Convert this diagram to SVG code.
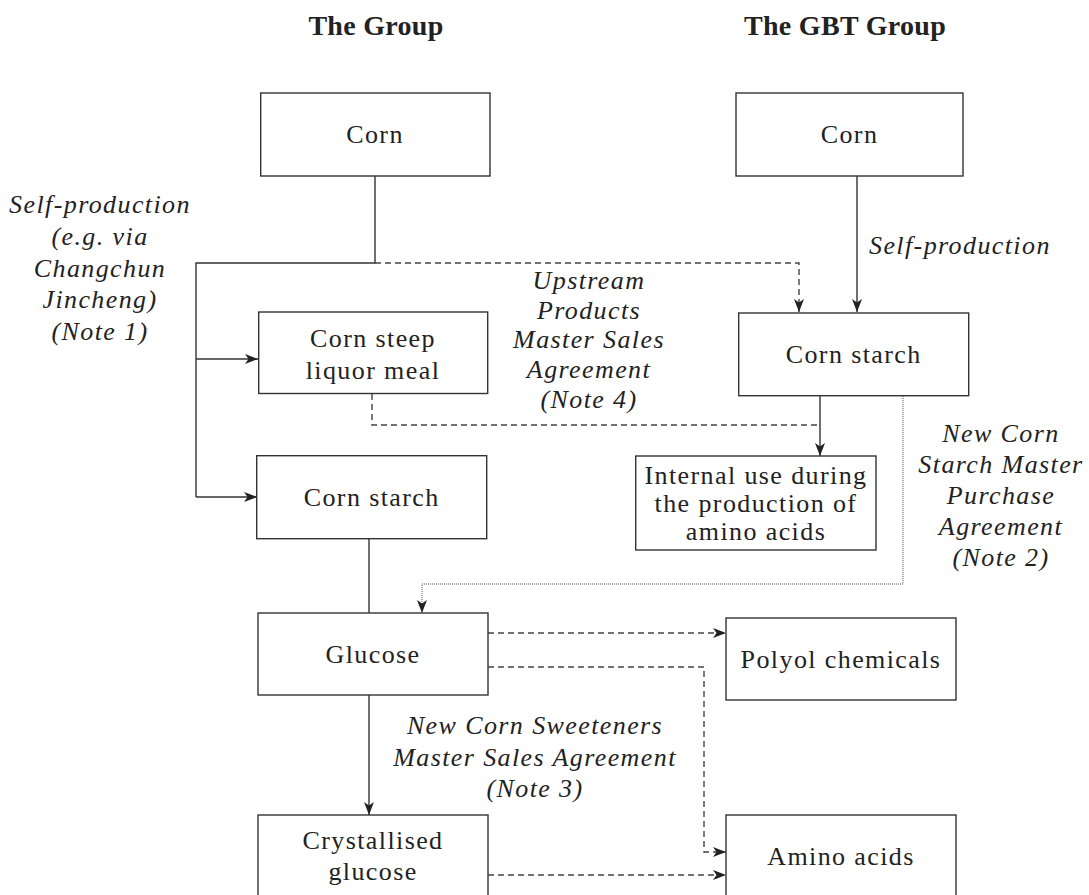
<svg xmlns="http://www.w3.org/2000/svg" width="1089" height="895" viewBox="0 0 1089 895">
<style>
  .box{fill:#fff;stroke:#333;stroke-width:1.4}
  .t{font-family:"Liberation Serif","Times New Roman",serif;font-size:26px;letter-spacing:1.4px;fill:#222;text-anchor:middle}
  .i{font-family:"Liberation Serif","Times New Roman",serif;font-size:26px;font-style:italic;letter-spacing:1.4px;fill:#222;text-anchor:middle}
  .h{font-family:"Liberation Serif","Times New Roman",serif;font-size:28px;font-weight:bold;letter-spacing:0.3px;fill:#222;text-anchor:middle}
  .s{fill:none;stroke:#333;stroke-width:1.4}
  .d{fill:none;stroke:#444;stroke-width:1.4;stroke-dasharray:6 4}
  .o{fill:none;stroke:#555;stroke-width:1;stroke-dasharray:1 1}
</style>
<defs>
  <marker id="arr" markerUnits="userSpaceOnUse" markerWidth="14" markerHeight="12" refX="13" refY="5" orient="auto">
    <path d="M0,0 L13,5 L0,10 L3.5,5 Z" fill="#222"/>
  </marker>
</defs>
<rect width="1089" height="895" fill="#fff"/>

<g id="titles">
  <text class="h" x="376" y="35">The Group</text>
  <text class="h" x="845" y="35">The GBT Group</text>
</g>

<g id="connectors">
  <polyline class="s" points="375,176 375,263 196,263 196,497"/>
  <line class="s" x1="196" y1="359" x2="258" y2="359" marker-end="url(#arr)"/>
  <line class="s" x1="196" y1="497" x2="257" y2="497" marker-end="url(#arr)"/>
  <polyline class="d" points="375,263 799,263 799,312" marker-end="url(#arr)"/>
  <line class="s" x1="857" y1="176" x2="857" y2="312" marker-end="url(#arr)"/>
  <polyline class="d" points="372,394 372,425 820,425"/>
  <line class="s" x1="820" y1="396" x2="820" y2="456" marker-end="url(#arr)"/>
  <polyline class="o" points="903,396 903,584 422,584 422,613" marker-end="url(#arr)"/>
  <line class="s" x1="369" y1="539" x2="369" y2="613"/>
  <line class="d" x1="488" y1="633" x2="726" y2="633" marker-end="url(#arr)"/>
  <polyline class="d" points="488,667 704,667 704,852 726,852" marker-end="url(#arr)"/>
  <line class="s" x1="369" y1="695" x2="369" y2="815" marker-end="url(#arr)"/>
  <line class="d" x1="488" y1="875" x2="726" y2="875" marker-end="url(#arr)"/>
</g>

<g id="labels">
  <text class="i" x="100" y="213">Self-production</text>
  <text class="i" x="100" y="245">(e.g. via</text>
  <text class="i" x="100" y="277">Changchun</text>
  <text class="i" x="100" y="308">Jincheng)</text>
  <text class="i" x="100" y="340">(Note 1)</text>
  <text class="i" x="869" y="254" style="text-anchor:start">Self-production</text>
  <text class="i" x="589" y="289">Upstream</text>
  <text class="i" x="589" y="319">Products</text>
  <text class="i" x="589" y="348">Master Sales</text>
  <text class="i" x="589" y="378">Agreement</text>
  <text class="i" x="589" y="408">(Note 4)</text>
  <text class="i" x="1001" y="442">New Corn</text>
  <text class="i" x="1001" y="473">Starch Master</text>
  <text class="i" x="1001" y="504">Purchase</text>
  <text class="i" x="1001" y="535">Agreement</text>
  <text class="i" x="1001" y="566">(Note 2)</text>
  <text class="i" x="535" y="734">New Corn Sweeteners</text>
  <text class="i" x="535" y="766">Master Sales Agreement</text>
  <text class="i" x="535" y="797">(Note 3)</text>
</g>

<g id="corn-group">
  <rect class="box" x="260.7" y="93" width="229.3" height="83"/>
  <text class="t" x="375" y="143">Corn</text>
</g>
<g id="corn-gbt">
  <rect class="box" x="736" y="93" width="227" height="83"/>
  <text class="t" x="849.5" y="143">Corn</text>
</g>
<g id="corn-steep">
  <rect class="box" x="258.7" y="312" width="229" height="81.5"/>
  <text class="t" x="373" y="347">Corn steep</text>
  <text class="t" x="373" y="379">liquor meal</text>
</g>
<g id="corn-starch-gbt">
  <rect class="box" x="738.7" y="313" width="230" height="82.7"/>
  <text class="t" x="853.7" y="363">Corn starch</text>
</g>
<g id="internal-use">
  <rect class="box" x="635.7" y="456" width="240.3" height="94"/>
  <text class="t" x="756" y="484">Internal use during</text>
  <text class="t" x="756" y="512">the production of</text>
  <text class="t" x="756" y="540">amino acids</text>
</g>
<g id="corn-starch-group">
  <rect class="box" x="256.7" y="455.7" width="230" height="83"/>
  <text class="t" x="371.7" y="506">Corn starch</text>
</g>
<g id="glucose">
  <rect class="box" x="258" y="613" width="230" height="82"/>
  <text class="t" x="373" y="663">Glucose</text>
</g>
<g id="polyol">
  <rect class="box" x="726" y="618" width="230" height="82"/>
  <text class="t" x="841" y="668">Polyol chemicals</text>
</g>
<g id="crystallised">
  <rect class="box" x="258" y="815" width="230" height="84"/>
  <text class="t" x="373" y="849">Crystallised</text>
  <text class="t" x="373" y="880">glucose</text>
</g>
<g id="amino">
  <rect class="box" x="726" y="815" width="230" height="84"/>
  <text class="t" x="841" y="865">Amino acids</text>
</g>
</svg>
